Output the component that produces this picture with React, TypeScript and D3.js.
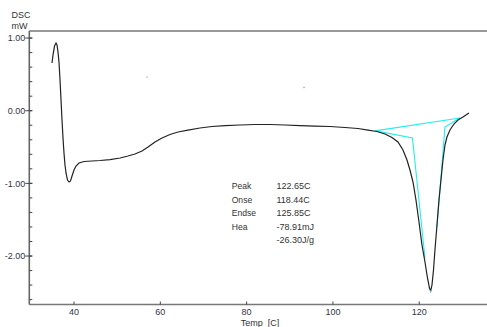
import React from "react";
import * as d3 from "d3";

const temps = [34.90,35.13,35.48,35.83,36.06,36.29,36.52,36.76,36.99,37.22,37.45,37.68,37.91,38.15,38.49,38.84,39.19,39.54,40.0,40.46,41.16,42.32,44.17,46.02,48.34,50.66,52.51,54.13,55.76,57.15,58.77,60.39,62.24,64.10,66.41,69.19,71.97,74.99,78.46,81.94,85.41,88.89,92.36,95.84,99.31,102.79,105.80,108.12,110.20,112.06,113.68,115.07,116.23,117.16,117.85,118.55,119.24,119.94,120.63,121.33,121.91,122.37,122.65,122.95,123.30,123.64,124.11,124.57,125.03,125.50,125.96,126.42,127.12,128.04,128.97,130.13,131.52];
const dsc = [0.656,0.766,0.890,0.932,0.904,0.808,0.670,0.422,0.147,-0.127,-0.376,-0.582,-0.747,-0.857,-0.954,-0.981,-0.967,-0.898,-0.816,-0.761,-0.720,-0.699,-0.692,-0.685,-0.672,-0.651,-0.623,-0.596,-0.555,-0.500,-0.431,-0.376,-0.328,-0.293,-0.266,-0.238,-0.217,-0.204,-0.197,-0.190,-0.190,-0.197,-0.204,-0.211,-0.217,-0.231,-0.245,-0.266,-0.286,-0.321,-0.369,-0.431,-0.541,-0.678,-0.816,-0.981,-1.229,-1.532,-1.848,-2.082,-2.302,-2.440,-2.481,-2.399,-2.192,-1.917,-1.573,-1.229,-0.954,-0.678,-0.472,-0.362,-0.266,-0.183,-0.128,-0.087,-0.032];

// analysis construction lines (temp, mW)
const baselineT = [109.74, 129.43];
const baselineV = [-0.278, -0.100];
const onsetT = [109.9, 118.43, 121.33];
const onsetV = [-0.278, -0.376, -2.027];
const endsetT = [129.43, 125.96, 124.11];
const endsetV = [-0.100, -0.224, -1.600];
const peakT = 122.65;
const peakV = -2.48;

const xTicks = [40, 60, 80, 100, 120];
const yMajor = [1, 0, -1, -2];
const yMinor = d3.range(-26, 11, 2).map((v) => v / 10);

const resLabels = ["Peak", "Onse", "Endse", "Hea", ""];
const resValues = ["122.65C", "118.44C", "125.85C", "-78.91mJ", "-26.30J/g"];

const W = 487, H = 327;
const L = 29.3, R = 487, T = 31, B = 304.5;

export default function App() {
  const x = d3.scaleLinear().domain([29.64, 135.7]).range([L, R]);
  const y = d3.scaleLinear().domain([1.097, -2.667]).range([T, B]);
  const line = d3.line<[number, number]>().x((d) => x(d[0])).y((d) => y(d[1]));
  const curve = line(temps.map((t, i) => [t, dsc[i]] as [number, number])) || "";
  const mk = (ts: number[], vs: number[]) => line(ts.map((t, i) => [t, vs[i]] as [number, number])) || "";
  const font = "Arial, 'Liberation Sans', sans-serif";
  return (
    <svg width={W} height={H} style={{ position: "absolute", left: 0, top: 0, background: "#fff" }} fontFamily={font}>
      <rect width={W} height={H} fill="#fff" />
      <text x={11.5} y={18} fontSize={9} fill="#333">DSC</text>
      <text x={11.5} y={28.5} fontSize={9} fill="#333">mW</text>
      {/* frame */}
      <line x1={L} x2={R} y1={T} y2={T} stroke="#777" strokeWidth={1.6} />
      <line x1={L} x2={R} y1={B} y2={B} stroke="#777" strokeWidth={1.6} />
      <line x1={L} x2={L} y1={T} y2={B} stroke="#666" strokeWidth={1.6} />
      {yMinor.map((v) => (
        <line key={"m" + v} x1={L} x2={L + 3} y1={y(v)} y2={y(v)} stroke="#444" strokeWidth={1} />
      ))}
      {yMajor.map((v) => (
        <g key={"M" + v}>
          <line x1={L - 4} x2={L + 3} y1={y(v)} y2={y(v)} stroke="#444" strokeWidth={1} />
          <text x={L - 4} y={y(v) + 3.3} fontSize={9} textAnchor="end" fill="#334">{v.toFixed(2)}</text>
        </g>
      ))}
      {xTicks.map((v) => (
        <g key={"x" + v}>
          <line x1={x(v)} x2={x(v)} y1={B} y2={B - 3} stroke="#444" strokeWidth={1} />
          <text x={x(v)} y={B + 10} fontSize={9} textAnchor="middle" fill="#334">{v}</text>
        </g>
      ))}
      <text x={260} y={326} fontSize={9} textAnchor="middle" fill="#333" xmlSpace="preserve">Temp  [C]</text>
      {/* stray markers */}
      <rect x={x(56.9) - 0.7} y={y(0.46) - 0.7} width={1.4} height={1.4} fill="#f0b080" />
      <rect x={x(93.3) - 0.7} y={y(0.32) - 0.7} width={1.4} height={1.4} fill="#aaa" />
      {/* cyan analysis lines */}
      <path d={mk(baselineT, baselineV)} fill="none" stroke="#22eeee" strokeWidth={1.1} />
      <path d={mk(onsetT, onsetV)} fill="none" stroke="#22eeee" strokeWidth={1.1} />
      <path d={mk(endsetT, endsetV)} fill="none" stroke="#22eeee" strokeWidth={1.1} />
      <path d={curve} fill="none" stroke="#222" strokeWidth={1.2} />
      <rect x={x(peakT) - 0.8} y={y(peakV) - 0.5} width={1.6} height={1.6} fill="#22eeee" />
      {/* results */}
      {resValues.map((v, i) => (
        <g key={"r" + i}>
          {resLabels[i] && (
            <text x={231.7} y={189 + i * 13.5} fontSize={8.6} fill="#333">{resLabels[i]}</text>
          )}
          <text x={276.5} y={189 + i * 13.5} fontSize={9} fill="#333">{v}</text>
        </g>
      ))}
    </svg>
  );
}
